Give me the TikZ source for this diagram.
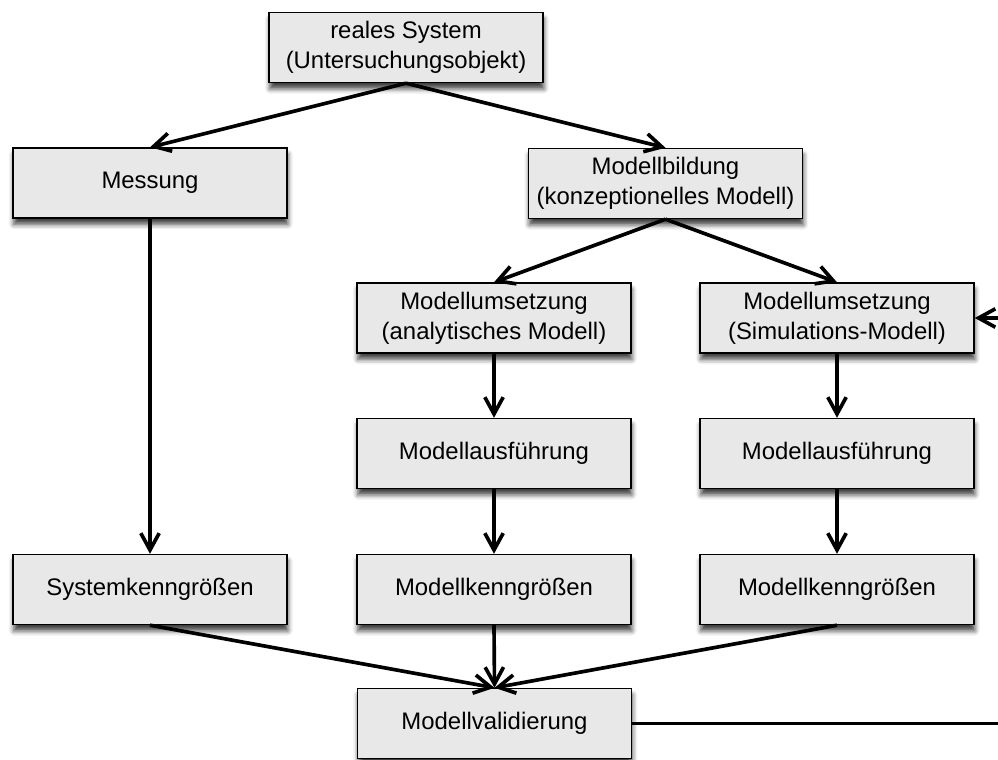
\documentclass[tikz,border=0pt]{standalone}
\usepackage{fontspec}
\setmainfont{Liberation Sans}
\usepackage{tikz}
\usetikzlibrary{arrows.meta}
\usetikzlibrary{shadows.blur}
\definecolor{boxgray}{RGB}{232,232,232}
\tikzset{
  kasten/.style={draw=black,line width=1pt,fill=boxgray,
    minimum width=6.85cm,minimum height=1.75cm,inner sep=0pt,
    align=center,font=\fontsize{17}{21.5}\selectfont,
    blur shadow={shadow xshift=0.6pt,shadow yshift=-4.5pt,
      shadow blur radius=3.5pt,shadow opacity=75}},
  pfeil/.style={line width=2.6pt,
    -{Straight Barb[length=4.2mm,width=4.6mm]}},
  linie/.style={line width=2.6pt}
}
\begin{document}
\begin{tikzpicture}[x=0.025cm,y=-0.025cm]
  \useasboundingbox (0,0) rectangle (998,760);
  \node[kasten] (sys) at (406,47.5)
    {reales System\\(Untersuchungsobjekt)};
  \node[kasten] (mess) at (150,183)
    {Messung};
  \node[kasten] (bild) at (665.5,183.5)
    {Modellbildung\\(konzeptionelles Modell)};
  \node[kasten] (umsA) at (494,318)
    {Modellumsetzung\\(analytisches Modell)};
  \node[kasten] (umsS) at (837,318)
    {Modellumsetzung\\(Simulations-Modell)};
  \node[kasten] (ausA) at (494,453.5)
    {Modellausführung};
  \node[kasten] (ausS) at (837,453.5)
    {Modellausführung};
  \node[kasten] (kennSys) at (150,589.5)
    {Systemkenngrößen};
  \node[kasten] (kennA) at (494,589.5)
    {Modellkenngrößen};
  \node[kasten] (kennS) at (837,589.5)
    {Modellkenngrößen};
  \node[kasten] (valid) at (494.5,723.5)
    {Modellvalidierung};
  \coordinate (rueckU) at (1010,723.5);
  \coordinate (rueckO) at (1010,318);
  \draw[pfeil]
    (sys.south)
    --
    (mess.north);
  \draw[pfeil]
    (sys.south)
    --
    (bild.north);
  \draw[pfeil]
    (bild.south)
    --
    (umsA.north);
  \draw[pfeil]
    (bild.south)
    --
    (umsS.north);
  \draw[pfeil]
    (mess.south)
    --
    (kennSys.north);
  \draw[pfeil]
    (umsA.south)
    --
    (ausA.north);
  \draw[pfeil]
    (ausA.south)
    --
    (kennA.north);
  \draw[pfeil]
    (umsS.south)
    --
    (ausS.north);
  \draw[pfeil]
    (ausS.south)
    --
    (kennS.north);
  \draw[pfeil]
    (kennSys.south)
    --
    (valid.north);
  \draw[pfeil]
    (kennA.south)
    --
    (valid.north);
  \draw[pfeil]
    (kennS.south)
    --
    (valid.north);
  \draw[linie]
    (valid.east)
    --
    (rueckU);
  \draw[pfeil]
    (rueckO)
    --
    (umsS.east);
\end{tikzpicture}
\end{document}
